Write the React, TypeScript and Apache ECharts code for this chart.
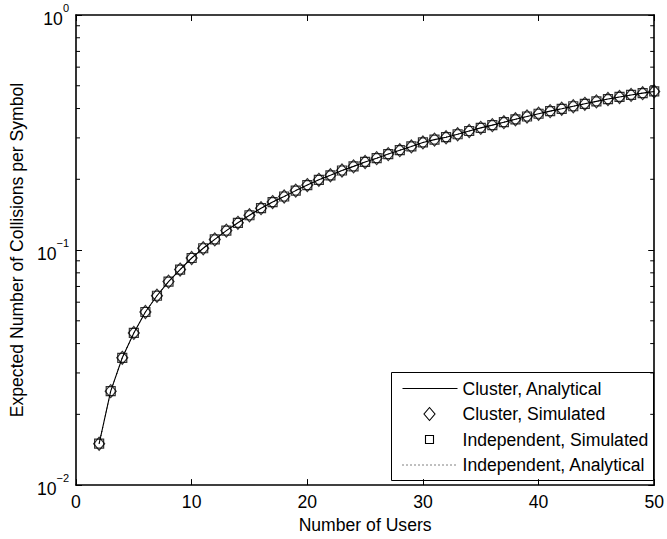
import React, { useEffect, useRef } from "react";
import * as echarts from "echarts";

const users = [2, 3, 4, 5, 6, 7, 8, 9, 10, 11, 12, 13, 14, 15, 16, 17, 18, 19, 20, 21, 22, 23, 24, 25, 26, 27, 28, 29, 30, 31, 32, 33, 34, 35, 36, 37, 38, 39, 40, 41, 42, 43, 44, 45, 46, 47, 48, 49, 50];

const clusterAnalytical = [0.015, 0.0251, 0.0348, 0.0444, 0.0545, 0.0639, 0.0734, 0.0826, 0.0925, 0.1018, 0.111, 0.121, 0.1306, 0.1406, 0.1507, 0.16, 0.169, 0.179, 0.189, 0.199, 0.208, 0.218, 0.227, 0.237, 0.246, 0.256, 0.266, 0.276, 0.287, 0.295, 0.302, 0.311, 0.321, 0.331, 0.34, 0.35, 0.36, 0.37, 0.38, 0.39, 0.399, 0.409, 0.419, 0.429, 0.439, 0.448, 0.457, 0.465, 0.473];
const clusterSimulated = [0.015, 0.0251, 0.0348, 0.0444, 0.0545, 0.0639, 0.0734, 0.0826, 0.0925, 0.1018, 0.111, 0.121, 0.1306, 0.1406, 0.1507, 0.16, 0.169, 0.179, 0.189, 0.199, 0.208, 0.218, 0.227, 0.237, 0.246, 0.256, 0.266, 0.276, 0.287, 0.295, 0.302, 0.311, 0.321, 0.331, 0.34, 0.35, 0.36, 0.37, 0.38, 0.39, 0.399, 0.409, 0.419, 0.429, 0.439, 0.448, 0.457, 0.465, 0.473];
const independentSimulated = [0.015, 0.0251, 0.0348, 0.0444, 0.0545, 0.0639, 0.0734, 0.0826, 0.0925, 0.1018, 0.111, 0.121, 0.1306, 0.1406, 0.1507, 0.16, 0.169, 0.179, 0.189, 0.199, 0.208, 0.218, 0.227, 0.237, 0.246, 0.256, 0.266, 0.276, 0.287, 0.295, 0.302, 0.311, 0.321, 0.331, 0.34, 0.35, 0.36, 0.37, 0.38, 0.39, 0.399, 0.409, 0.419, 0.429, 0.439, 0.448, 0.457, 0.465, 0.473];
const independentAnalytical = [0.015, 0.0251, 0.0348, 0.0444, 0.0545, 0.0639, 0.0734, 0.0826, 0.0925, 0.1018, 0.111, 0.121, 0.1306, 0.1406, 0.1507, 0.16, 0.169, 0.179, 0.189, 0.199, 0.208, 0.218, 0.227, 0.237, 0.246, 0.256, 0.266, 0.276, 0.287, 0.295, 0.302, 0.311, 0.321, 0.331, 0.34, 0.35, 0.36, 0.37, 0.38, 0.39, 0.399, 0.409, 0.419, 0.429, 0.439, 0.448, 0.457, 0.465, 0.473];

const minorTickValues = [0.02, 0.03, 0.04, 0.05, 0.06, 0.07, 0.08, 0.09, 0.2, 0.3, 0.4, 0.5, 0.6, 0.7, 0.8, 0.9];

const seriesNames = ["Cluster, Analytical", "Cluster, Simulated", "Independent, Simulated", "Independent, Analytical"];

const FONT = "'Liberation Sans', Arial, Helvetica, sans-serif";
const FS = 17.6;

const pair = (ys: number[]) => users.map((u, i) => [u, ys[i]]);

export default function App() {
  const ref = useRef<HTMLDivElement>(null);
  useEffect(() => {
    if (!ref.current) return;
    const chart = echarts.init(ref.current, null, { renderer: "svg" });
    const axisLineStyle = { color: "#000", width: 1.6 };
    const yFormatter = (v: number) => {
      const e = Math.round(Math.log10(v));
      const s = e < 0 ? "\u2212" + -e : String(e);
      return `{b|10}{s|${s}}`;
    };
    const legendX = 391;
    const legendY = 372;
    const rows = [16, 41.5, 67, 92.5];
    const legendChildren: any[] = [
      { type: "rect", shape: { x: 0, y: 0, width: 262, height: 108 }, style: { fill: "#fff", stroke: "#000", lineWidth: 1 } },
      { type: "line", shape: { x1: 11, y1: rows[0], x2: 66, y2: rows[0] }, style: { stroke: "#000", lineWidth: 1 } },
      { type: "polygon", shape: { points: [[38, rows[1] - 6.5], [43.5, rows[1]], [38, rows[1] + 6.5], [32.5, rows[1]]] }, style: { fill: "none", stroke: "#000", lineWidth: 1.1 } },
      { type: "rect", shape: { x: 34, y: rows[2] - 4, width: 8, height: 8 }, style: { fill: "none", stroke: "#000", lineWidth: 1.1 } },
      { type: "line", shape: { x1: 11, y1: rows[3], x2: 66, y2: rows[3] }, style: { stroke: "#000", lineWidth: 1, lineDash: [1, 3] } },
    ];
    seriesNames.forEach((n, i) => {
      legendChildren.push({
        type: "text",
        x: 71,
        y: rows[i],
        style: { text: n, fill: "#000", font: `${FS}px ${FONT}`, textVerticalAlign: "middle", textAlign: "left" },
      });
    });

    chart.setOption({
      animation: false,
      backgroundColor: "#fff",
      textStyle: { fontFamily: FONT },
      grid: { left: 75, right: 11, top: 15, bottom: 48, containLabel: false },
      xAxis: [
        {
          type: "value",
          min: 0,
          max: 50,
          interval: 10,
          position: "bottom",
          name: "Number of Users",
          nameLocation: "middle",
          nameGap: 27,
          nameTextStyle: { color: "#000", fontSize: FS, fontFamily: FONT },
          axisLine: { show: true, onZero: false, lineStyle: axisLineStyle },
          axisTick: { show: true, inside: true, length: 6, lineStyle: { color: "#000", width: 1 } },
          axisLabel: { color: "#000", fontSize: FS, fontFamily: FONT, margin: 8 },
          splitLine: { show: false },
        },
        {
          type: "value",
          min: 0,
          max: 50,
          interval: 10,
          position: "top",
          axisLine: { show: true, onZero: false, lineStyle: axisLineStyle },
          axisTick: { show: true, inside: true, length: 6, lineStyle: { color: "#000", width: 1 } },
          axisLabel: { show: false },
          splitLine: { show: false },
        },
      ],
      yAxis: [
        {
          type: "log",
          logBase: 10,
          min: 0.01,
          max: 1,
          position: "left",
          name: "Expected Number of Collisions per Symbol",
          nameLocation: "middle",
          nameGap: 42,
          nameTextStyle: { color: "#000", fontSize: FS, fontFamily: FONT },
          axisLine: { show: true, onZero: false, lineStyle: axisLineStyle },
          axisTick: { show: true, inside: true, length: 6, lineStyle: { color: "#000", width: 1 } },
          axisLabel: {
            formatter: yFormatter,
            margin: 7,
            rich: {
              b: { fontSize: FS, fontFamily: FONT, color: "#000", lineHeight: 26, verticalAlign: "bottom" },
              s: { fontSize: 11, fontFamily: FONT, color: "#000", lineHeight: 10, verticalAlign: "top" },
            },
          },
          splitLine: { show: false },
          minorTick: { show: false },
        },
        {
          type: "log",
          logBase: 10,
          min: 0.01,
          max: 1,
          position: "right",
          axisLine: { show: true, onZero: false, lineStyle: axisLineStyle },
          axisTick: { show: true, inside: true, length: 6, lineStyle: { color: "#000", width: 1 } },
          axisLabel: { show: false },
          splitLine: { show: false },
        },
      ],
      series: [
        {
          type: "custom",
          name: "minorTicks",
          silent: true,
          clip: false,
          data: minorTickValues.map((v) => [0, v]),
          renderItem: (params: any, api: any) => {
            const y = api.coord([0, api.value(1)])[1];
            const cs = params.coordSys;
            return {
              type: "group",
              children: [
                { type: "line", shape: { x1: cs.x, y1: y, x2: cs.x + 4, y2: y }, style: { stroke: "#000", lineWidth: 1 } },
                { type: "line", shape: { x1: cs.x + cs.width - 4, y1: y, x2: cs.x + cs.width, y2: y }, style: { stroke: "#000", lineWidth: 1 } },
              ],
            };
          },
        },
        {
          type: "line",
          name: seriesNames[3],
          data: pair(independentAnalytical),
          symbol: "none",
          lineStyle: { color: "#000", width: 1, type: [1, 3] },
          z: 2,
        },
        {
          type: "line",
          name: seriesNames[0],
          data: pair(clusterAnalytical),
          symbol: "none",
          lineStyle: { color: "#000", width: 1.1 },
          z: 3,
        },
        {
          type: "scatter",
          name: seriesNames[2],
          data: pair(independentSimulated),
          symbol: "rect",
          symbolSize: 9,
          itemStyle: { color: "rgba(0,0,0,0)", borderColor: "#000", borderWidth: 1.2 },
          z: 4,
        },
        {
          type: "scatter",
          name: seriesNames[1],
          data: pair(clusterSimulated),
          symbol: "diamond",
          symbolSize: [11, 13],
          itemStyle: { color: "rgba(0,0,0,0)", borderColor: "#000", borderWidth: 1.2 },
          z: 5,
        },
      ],
      graphic: [{ type: "group", left: legendX, top: legendY, children: legendChildren }],
    });
    return () => chart.dispose();
  }, []);
  return <div ref={ref} style={{ position: "fixed", left: 0, top: 0, width: 667, height: 539 }} />;
}
